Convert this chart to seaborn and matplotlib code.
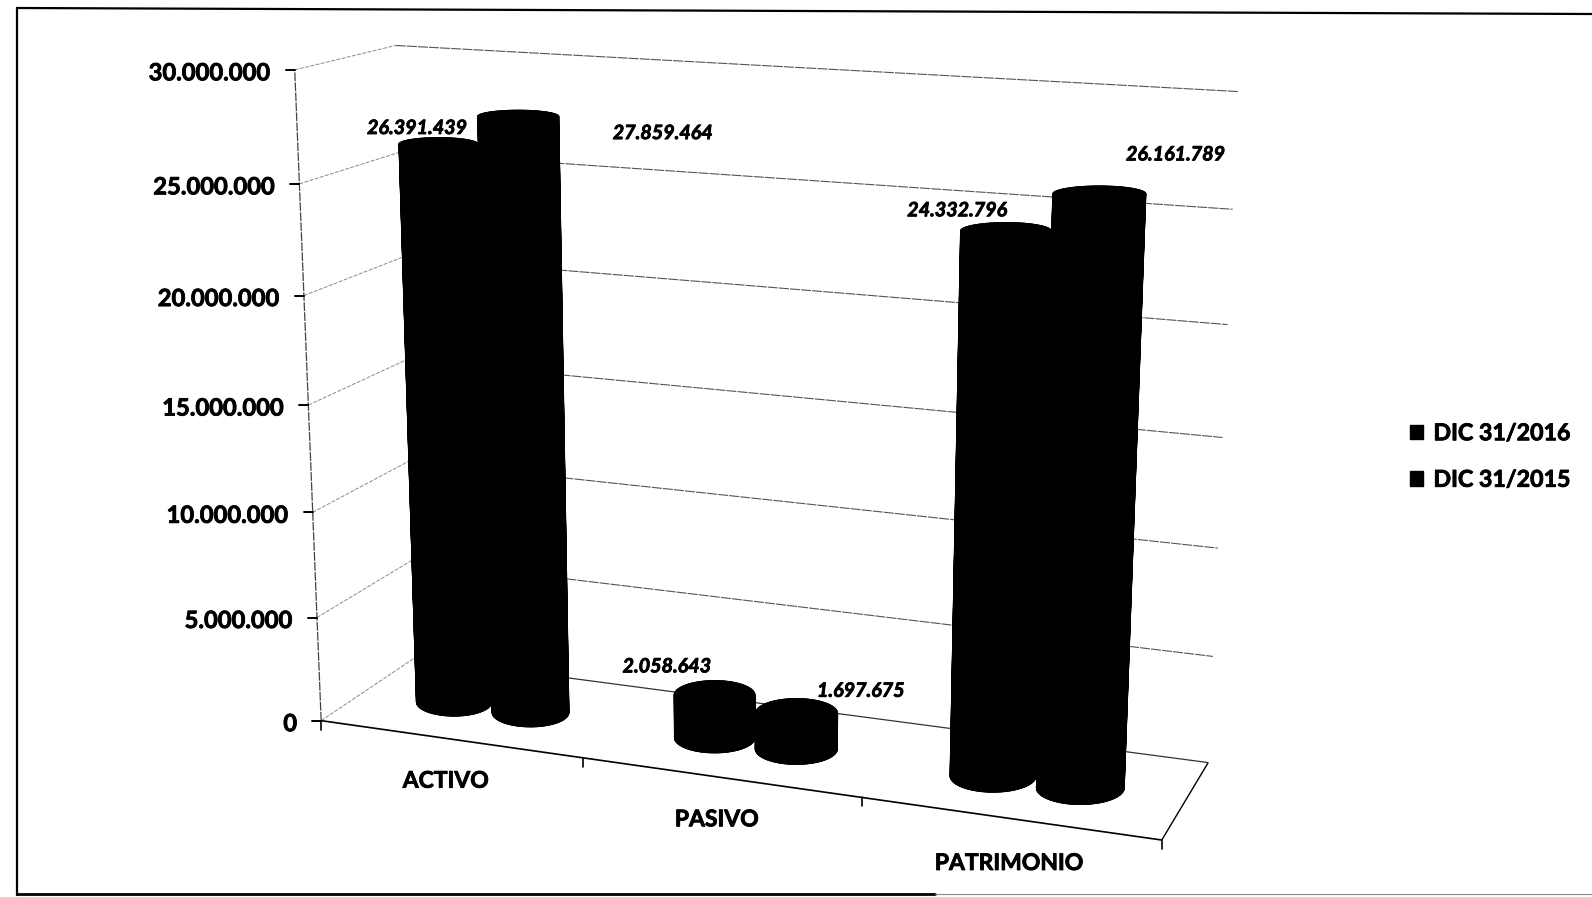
import numpy as np
import pandas as pd
import matplotlib
matplotlib.use('Agg')
import matplotlib.pyplot as plt
import matplotlib.patheffects as pe
from matplotlib.patches import Patch
import seaborn as sns

# Chart values
categories = ['ACTIVO', 'PASIVO', 'PATRIMONIO']
series_names = ['DIC 31/2016', 'DIC 31/2015']
values_2016 = [26391439, 2058643, 24332796]
values_2015 = [27859464, 1697675, 26161789]
y_ticks = [0, 5000000, 10000000, 15000000, 20000000, 25000000, 30000000]
y_max = 30000000

sns.set_theme(style='white')
plt.rcParams['font.family'] = ['Lato', 'DejaVu Sans']

W, H = 1592, 897
sx, sy = W / 1568, H / 883
thick = [pe.withStroke(linewidth=0.6, foreground='black')]

# Where known corners of the 3D box land on the page: (category, depth, value in 5M steps) -> pixel
calib = [
    (0, 0, 6, 290, 70), (0, 0, 5, 298, 182), (0, 0, 4, 301, 290), (0, 0, 3, 303, 398),
    (0, 0, 2, 307, 503), (0, 0, 1, 311, 607), (0, 0, 0, 315, 710),
    (0, 1, 6, 387, 44), (0, 1, 5, 392, 149), (0, 1, 4, 396, 254), (0, 1, 3, 400, 355),
    (0, 1, 2, 404, 454), (0, 1, 1, 407, 552), (0, 1, 0, 410, 648),
    (3, 1, 6, 1220, 90), (3, 1, 5, 1214, 207), (3, 1, 4, 1209, 319), (3, 1, 3, 1204, 431),
    (3, 1, 2, 1200, 539), (3, 1, 1, 1193, 646), (3, 1, 0, 1190, 750),
    (3, 0, 0, 1145, 827), (1, 0, 0, 573, 746), (2, 0, 0, 849, 786),
]
rows, rhs = [], []
for c, d, v, px, py in calib:
    u, w = px * sx, py * sy
    rows.append([c, d, v, 1, 0, 0, 0, 0, -u * c, -u * d, -u * v])
    rows.append([0, 0, 0, 0, c, d, v, 1, -w * c, -w * d, -w * v])
    rhs += [u, w]
sol = np.linalg.lstsq(np.array(rows, float), np.array(rhs, float), rcond=None)[0]
P = np.append(sol, 1).reshape(3, 4)


def box_pt(c, d, v):
    # category, depth, value in chart units -> page pixels
    q = P @ np.array([c, d, v / 5000000, 1.0])
    return q[0] / q[2], q[1] / q[2]


fig = plt.figure(figsize=(W / 100, H / 100), dpi=100)
ax = fig.add_axes([0, 0, 1, 1])

# Gridlines on side wall and back wall
side_rows, back_rows = [], []
for v in y_ticks:
    for c, d in [(0, 0), (0, 1)]:
        x, y = box_pt(c, d, v)
        side_rows.append({'level': v, 'px': x, 'py': y})
    if v > 0:
        for c, d in [(0, 1), (3, 1)]:
            x, y = box_pt(c, d, v)
            back_rows.append({'level': v, 'px': x, 'py': y})
sns.lineplot(data=pd.DataFrame(side_rows), x='px', y='py', units='level', estimator=None, sort=False,
             color='#8a8a8a', lw=0.7, linestyle=(0, (4, 1.5)), legend=False, ax=ax)
sns.lineplot(data=pd.DataFrame(back_rows), x='px', y='py', units='level', estimator=None, sort=False,
             color='#555555', lw=0.8, linestyle=(0, (9, 1)), legend=False, ax=ax)


# Axis edges
def edge(a, b, lw=1.2, color='black', ls='-'):
    xa, ya = box_pt(*a)
    xb, yb = box_pt(*b)
    ax.plot([xa, xb], [ya, yb], color=color, lw=lw, ls=ls, solid_capstyle='butt')


edge((0, 0, 0), (0, 0, y_max), lw=0.9, color='#444444', ls=(0, (7, 1)))
edge((0, 0, 0), (3, 0, 0), lw=1.2)
edge((3, 0, 0), (3, 1, 0), lw=1.0)
edge((3, 1, 0), (0, 1, 0), lw=0.9, color='#333333')

# Ticks and labels of the value axis
for v in y_ticks:
    x, y = box_pt(0, 0, v)
    ax.plot([x - 9, x], [y, y], color='black', lw=1.4)
    ax.text(x - 24, y + 3, f'{v:,}'.replace(',', '.'), ha='right', va='center',
            fontsize=17.1, fontweight='bold', color='black', path_effects=thick)

# Ticks of the category axis
for c in range(4):
    x, y = box_pt(c, 0, 0)
    ax.plot([x, x], [y, y + 9], color='black', lw=1.2)

# Category labels hand placed in the source chart
cat_label_pos = [(439, 769), (706, 807), (994, 850)]
for name, (px, py) in zip(categories, cat_label_pos):
    ax.text(px * sx, py * sy, name, ha='center', va='center', fontsize=16.5, fontweight='bold',
            color='black', path_effects=thick)

# Cylinders
half_step = 0.15
radius_x = 0.15
radius_y = 0.22
mid_depth = 0.47
theta = np.linspace(0, 2 * np.pi, 73)


def ring(cat, value):
    # upright ellipse around the projected centre of the disc, as Excel draws it
    cx, cy = box_pt(cat, mid_depth, value)
    a = (box_pt(cat + radius_x, mid_depth, value)[0] - box_pt(cat - radius_x, mid_depth, value)[0]) / 2
    b = abs(box_pt(cat, mid_depth + radius_y, value)[1] - box_pt(cat, mid_depth - radius_y, value)[1]) / 2
    return cx + a * np.cos(theta), cy + b * np.sin(theta)


def cylinder(cat, value):
    bx, by = ring(cat, 0)
    tx, ty = ring(cat, value)
    ax.fill(bx, by, color='black', lw=0.5, zorder=3)
    for i in range(len(theta) - 1):
        ax.fill([bx[i], bx[i + 1], tx[i + 1], tx[i]], [by[i], by[i + 1], ty[i + 1], ty[i]],
                color='black', lw=0.5, zorder=3)
    ax.fill(tx, ty, color='black', lw=0.5, zorder=3)


for i in range(len(categories)):
    cylinder(i + 0.5 - half_step, values_2016[i])
    cylinder(i + 0.5 + half_step, values_2015[i])

# Data labels hand placed in the source chart
label_pos_2016 = [(411, 126), (657, 656), (943, 207)]
label_pos_2015 = [(653, 131), (848, 680), (1158, 152)]
for vals, poss in [(values_2016, label_pos_2016), (values_2015, label_pos_2015)]:
    for v, (px, py) in zip(vals, poss):
        ax.text(px * sx, py * sy, f'{v:,}'.replace(',', '.'), ha='center', va='center', fontsize=14.2,
                fontstyle='italic', fontweight='bold', color='black', zorder=5, path_effects=thick)

# Page frame from the scan
ax.plot([17, 17], [8, 895], color='black', lw=1.6)
ax.plot([17, W], [8, 14], color='black', lw=1.6)
ax.plot([17, 935], [894, 894], color='black', lw=2.0)
ax.plot([935, W], [894, 894], color='#888888', lw=0.8)

handles = [Patch(color='black', label=s) for s in series_names]
leg = ax.legend(handles=handles, loc='center left', bbox_to_anchor=(1410 / W, 1 - 457 / H), frameon=False,
                handlelength=0.56, handleheight=0.56, handletextpad=0.45, labelspacing=1.1,
                prop={'size': 16.7, 'weight': 'bold'}, labelcolor='black', borderpad=0, borderaxespad=0)
for t in leg.get_texts():
    t.set_path_effects(thick)

ax.set_xlim(0, W)
ax.set_ylim(H, 0)
ax.axis('off')
fig.savefig('out.png', dpi=100)
